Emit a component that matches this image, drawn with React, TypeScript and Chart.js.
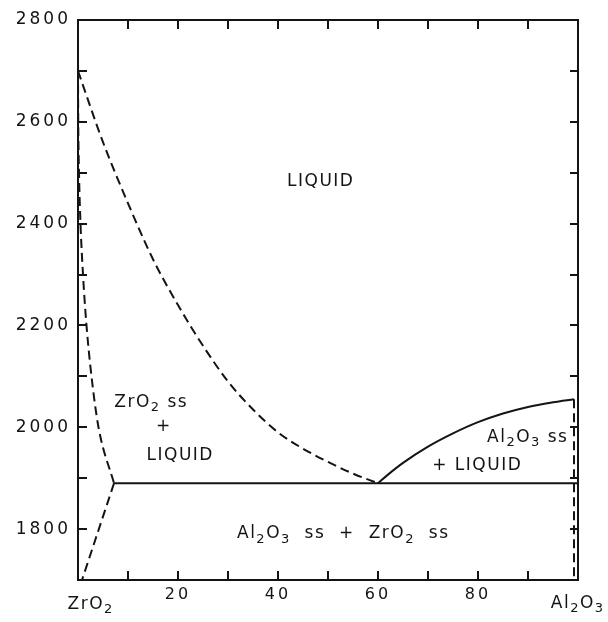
import React, { useEffect, useRef } from 'react';
import { Chart, registerables } from 'chart.js';

Chart.register(...registerables);

// ZrO2 liquidus (dashed)
const liquidusZrO2X = [0, 5, 10, 15, 20, 25, 30, 35, 40, 45, 50, 55, 60];
const liquidusZrO2T = [2700, 2560, 2440, 2330, 2240, 2160, 2090, 2035, 1990, 1958, 1932, 1909, 1890];
// ZrO2 solidus (dashed)
const solidusZrO2X = [0, 0.05, 0.2, 0.5, 1.0, 1.7, 2.7, 4.1, 7.2];
const solidusZrO2T = [2700, 2600, 2500, 2400, 2300, 2200, 2100, 2000, 1890];
// ZrO2 solvus (dashed)
const solvusZrO2X = [7.2, 0.8];
const solvusZrO2T = [1890, 1700];
// eutectic line (solid)
const eutecticX = [7.2, 100];
const eutecticT = [1890, 1890];
// Al2O3 liquidus (solid)
const liquidusAl2O3X = [60, 62, 65, 70, 75, 80, 85, 90, 95, 99.2];
const liquidusAl2O3T = [1890, 1907, 1930, 1962, 1988, 2010, 2027, 2040, 2049, 2055];
// Al2O3 solidus (dashed)
const solidusAl2O3X = [99.2, 99.2];
const solidusAl2O3T = [2055, 1700];

// axis
const xMin = 0;
const xMax = 100;
const yMin = 1700;
const yMax = 2800;
const xLabelEnds = ['ZrO_2', 'Al_2O_3'];

// region labels ('_' marks a subscript character)
const regionLabels = ['LIQUID', 'ZrO_2 ss', '+', 'LIQUID', 'Al_2O_3 ss', '+ LIQUID', 'Al_2O_3  ss  +  ZrO_2  ss'];
const regionLabelX = [48.4, 14.5, 17, 20.3, 89.8, 79.7, 52.9];
const regionLabelT = [2474, 2040, 1993, 1936, 1971, 1916, 1782];

const INK = '#141414';
const FONT = '"DejaVu Sans", sans-serif';

function drawRich(ctx: any, str: string, cx: number, baseline: number, size: number, spacing: number) {
  const parts: { t: string; sub: boolean }[] = [];
  for (let i = 0; i < str.length; i++) {
    if (str[i] === '_') {
      parts.push({ t: str[i + 1], sub: true });
      i++;
    } else parts.push({ t: str[i], sub: false });
  }
  ctx.letterSpacing = spacing + 'px';
  const subSize = Math.round(size * 0.78);
  const widths = parts.map((p) => {
    ctx.font = `${p.sub ? subSize : size}px ${FONT}`;
    return ctx.measureText(p.t).width;
  });
  const total = widths.reduce((a, b) => a + b, 0) - spacing;
  let x = cx - total / 2;
  ctx.textAlign = 'left';
  ctx.textBaseline = 'alphabetic';
  parts.forEach((p, i) => {
    ctx.font = `${p.sub ? subSize : size}px ${FONT}`;
    ctx.fillText(p.t, x, baseline + (p.sub ? size * 0.26 : 0));
    x += widths[i];
  });
}

const overlay = {
  id: 'overlay',
  beforeDraw(chart: any) {
    chart.ctx.letterSpacing = '3px';
  },
  afterDatasetsDraw(chart: any) {
    const { ctx, chartArea: a, scales } = chart;
    const xs = scales.x;
    const ys = scales.y;
    ctx.save();
    ctx.strokeStyle = INK;
    ctx.lineWidth = 2;
    ctx.setLineDash([]);
    ctx.strokeRect(a.left, a.top, a.right - a.left, a.bottom - a.top);
    const tl = 9;
    ctx.beginPath();
    for (let v = 10; v < 100; v += 10) {
      const px = Math.round(xs.getPixelForValue(v));
      ctx.moveTo(px, a.bottom);
      ctx.lineTo(px, a.bottom - tl);
      ctx.moveTo(px, a.top);
      ctx.lineTo(px, a.top + tl);
    }
    for (let v = 1800; v < 2800; v += 100) {
      const py = Math.round(ys.getPixelForValue(v));
      ctx.moveTo(a.left, py);
      ctx.lineTo(a.left + tl, py);
      ctx.moveTo(a.right, py);
      ctx.lineTo(a.right - tl + 1, py);
    }
    ctx.stroke();

    ctx.fillStyle = INK;
    regionLabels.forEach((s, i) => {
      drawRich(ctx, s, xs.getPixelForValue(regionLabelX[i]), ys.getPixelForValue(regionLabelT[i]), 17, 1.5);
    });
    drawRich(ctx, xLabelEnds[0], xs.getPixelForValue(xMin) + 12, a.bottom + 29, 17, 1.5);
    drawRich(ctx, xLabelEnds[1], xs.getPixelForValue(xMax) - 1, a.bottom + 28, 17, 1.5);
    ctx.restore();
  },
  afterDraw(chart: any) {
    chart.ctx.letterSpacing = '0px';
  },
};

export default function App() {
  const ref = useRef<HTMLCanvasElement>(null);
  useEffect(() => {
    const canvas = ref.current!;
    const mk = (xsArr: number[], ts: number[], dashed: boolean, smooth: boolean) => ({
      data: xsArr.map((x, i) => ({ x, y: ts[i] })),
      showLine: true,
      borderColor: INK,
      backgroundColor: INK,
      borderWidth: 2,
      borderDash: dashed ? [9, 5] : [],
      pointRadius: 0,
      pointHoverRadius: 0,
      fill: false,
      tension: 0,
      cubicInterpolationMode: smooth ? 'monotone' : 'default',
      clip: 6,
    });
    const chart = new Chart(canvas, {
      type: 'scatter',
      data: {
        datasets: [
          mk(liquidusZrO2X, liquidusZrO2T, true, true),
          mk(solidusZrO2X, solidusZrO2T, true, true),
          mk(solvusZrO2X, solvusZrO2T, true, false),
          mk(eutecticX, eutecticT, false, false),
          mk(liquidusAl2O3X, liquidusAl2O3T, false, true),
          mk(solidusAl2O3X, solidusAl2O3T, true, false),
        ] as any,
      },
      options: {
        responsive: false,
        animation: false,
        devicePixelRatio: 1,
        layout: { padding: { top: 20, right: 30, left: 0, bottom: 0 } },
        plugins: { legend: { display: false }, tooltip: { enabled: false } },
        events: [],
        scales: {
          x: {
            type: 'linear',
            min: xMin,
            max: xMax,
            grid: { display: false, drawTicks: false },
            border: { display: false },
            ticks: {
              stepSize: 20,
              padding: 5,
              color: INK,
              font: { family: FONT, size: 16 },
              maxRotation: 0,
              callback: (v: any) => (v === xMin || v === xMax ? '' : String(v)),
            },
            afterFit: (s: any) => {
              s.height = 42;
            },
          },
          y: {
            type: 'linear',
            min: yMin,
            max: yMax,
            grid: { display: false, drawTicks: false },
            border: { display: false },
            ticks: {
              stepSize: 100,
              padding: 7,
              color: INK,
              font: { family: FONT, size: 17 },
              callback: (v: any) => (v % 200 === 0 ? String(v) : ''),
            },
            afterFit: (s: any) => {
              s.width = 78;
            },
          },
        },
      } as any,
      plugins: [overlay],
    });
    return () => chart.destroy();
  }, []);
  return (
    <canvas
      ref={ref}
      width={608}
      height={622}
      style={{ position: 'absolute', left: 0, top: 0, display: 'block', background: '#fff' }}
    />
  );
}
